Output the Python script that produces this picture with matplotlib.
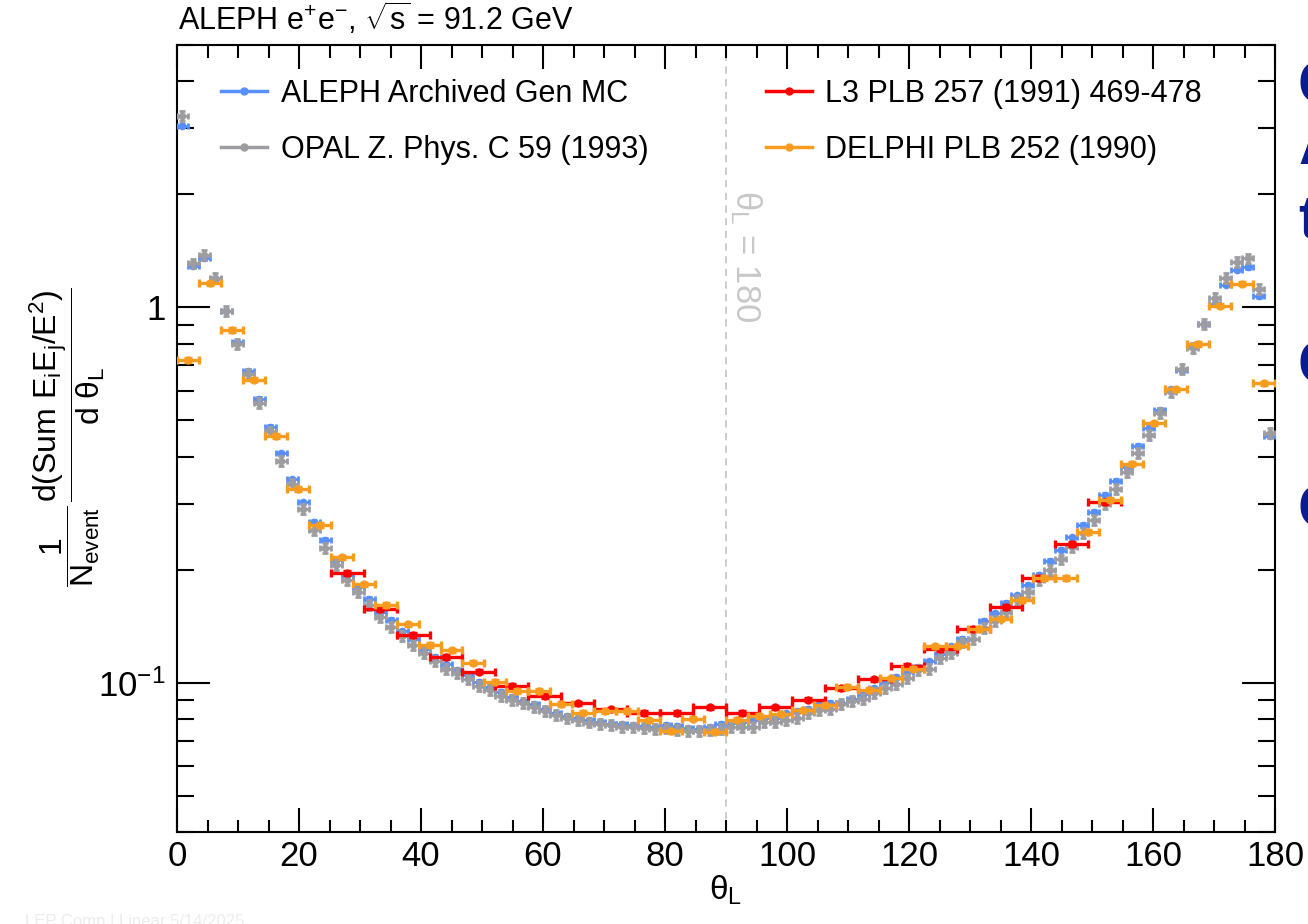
import numpy as np
import matplotlib
matplotlib.use("Agg")
import matplotlib.pyplot as plt
from matplotlib.lines import Line2D
from matplotlib.ticker import MultipleLocator, LogLocator, NullFormatter

plt.rcParams['font.family'] = ['Liberation Sans', 'DejaVu Sans']
plt.rcParams['mathtext.fontset'] = 'custom'
plt.rcParams['mathtext.rm'] = 'Liberation Sans'
plt.rcParams['mathtext.it'] = 'Liberation Sans:italic'
plt.rcParams['mathtext.default'] = 'regular'

# ALEPH archived MC, 100 bins of 1.8 deg
aleph_edges = np.linspace(0, 180, 101)
aleph_vals = [3.05, 1.29, 1.35, 1.19, 0.98, 0.806, 0.677, 0.570, 0.481, 0.408,
              0.348, 0.302, 0.268, 0.240, 0.212, 0.194, 0.180, 0.167, 0.154, 0.147,
              0.137, 0.131, 0.123, 0.117, 0.112, 0.108, 0.105, 0.1005, 0.0975, 0.0945,
              0.0917, 0.0892, 0.0877, 0.0853, 0.0829, 0.0815, 0.0803, 0.0794, 0.0787, 0.0776,
              0.0774, 0.0772, 0.0765, 0.0763, 0.0772, 0.0768, 0.0757, 0.0753, 0.0763, 0.0776,
              0.0782, 0.0787, 0.0794, 0.0804, 0.0806, 0.0829, 0.0838, 0.0853, 0.0877, 0.0882,
              0.0885, 0.0906, 0.0932, 0.0965, 0.1005, 0.1036, 0.1068, 0.110, 0.114, 0.119,
              0.125, 0.131, 0.139, 0.146, 0.153, 0.163, 0.171, 0.182, 0.194, 0.211,
              0.226, 0.244, 0.263, 0.285, 0.316, 0.345, 0.376, 0.428, 0.478, 0.533,
              0.605, 0.68, 0.79, 0.903, 1.02, 1.15, 1.26, 1.28, 1.07, 0.455]

# OPAL, same binning
opal_vals = [3.24, 1.31, 1.38, 1.20, 0.98, 0.798, 0.664, 0.555, 0.467, 0.389,
             0.338, 0.290, 0.255, 0.228, 0.206, 0.188, 0.174, 0.161, 0.150, 0.141,
             0.133, 0.126, 0.120, 0.114, 0.109, 0.106, 0.102, 0.098, 0.0956, 0.0922,
             0.090, 0.0882, 0.0861, 0.0839, 0.0821, 0.0803, 0.0794, 0.0783, 0.0775, 0.0772,
             0.0763, 0.076, 0.0757, 0.0753, 0.0755, 0.075, 0.0745, 0.0745, 0.075, 0.0752,
             0.0763, 0.0763, 0.0763, 0.0787, 0.0787, 0.0794, 0.0806, 0.0829, 0.0843, 0.0853,
             0.0877, 0.0892, 0.0906, 0.0939, 0.0965, 0.0994, 0.1026, 0.108, 0.109, 0.116,
             0.120, 0.128, 0.131, 0.140, 0.146, 0.154, 0.166, 0.174, 0.188, 0.200,
             0.213, 0.230, 0.250, 0.272, 0.299, 0.329, 0.365, 0.410, 0.457, 0.524,
             0.596, 0.684, 0.78, 0.903, 1.06, 1.196, 1.32, 1.35, 1.12, 0.462]

# L3, 24 bins of 5.4 deg from 25.2 to 154.8
l3_edges = np.linspace(25.2, 154.8, 25)
l3_vals = [0.196, 0.157, 0.134, 0.117, 0.107, 0.098, 0.092, 0.088, 0.085, 0.083, 0.083, 0.086,
           0.083, 0.086, 0.090, 0.0965, 0.102, 0.111, 0.123, 0.139, 0.159, 0.190, 0.234, 0.303]

# DELPHI, 50 bins of 3.6 deg
delphi_edges = np.linspace(0, 180, 51)
delphi_vals = [0.724, 1.16, 0.87, 0.641, 0.454, 0.328, 0.263, 0.216, 0.183, 0.161,
               0.143, 0.126, 0.122, 0.113, 0.1005, 0.095, 0.095, 0.0877, 0.0831, 0.0838,
               0.084, 0.0794, 0.0742, 0.0802, 0.074, 0.0797, 0.0815, 0.0827, 0.0843, 0.0871,
               0.0974, 0.0958, 0.1026, 0.109, 0.125, 0.125, 0.139, 0.148, 0.166, 0.190,
               0.190, 0.252, 0.307, 0.383, 0.491, 0.605, 0.798, 1.01, 1.155, 0.628]

c_aleph = '#5790fc'
c_opal = '#9c9ca1'
c_l3 = '#ff0000'
c_delphi = '#f89c20'

fig = plt.figure(figsize=(13.08, 9.24), dpi=100)
ax = fig.add_axes([177/1308, 1-832/924, 1098/1308, 787/924])


def draw(edges, vals, color, rel, ms, lw, cap, z):
    edges = np.asarray(edges)
    vals = np.asarray(vals)
    x = 0.5*(edges[1:]+edges[:-1])
    hw = 0.5*(edges[1:]-edges[:-1])
    ax.errorbar(x, vals, xerr=hw, yerr=vals*rel, fmt='o', color=color, ms=ms,
                elinewidth=lw, capsize=cap, capthick=lw, zorder=z)


ax.axvline(90, color='#c8c8c8', ls=(0, (4, 3)), lw=1.3, zorder=1)
draw(aleph_edges, aleph_vals, c_aleph, 0.01, 4.5, 2.0, 2.2, 3)
draw(aleph_edges, opal_vals, c_opal, 0.03, 4.5, 2.0, 2.2, 4)
draw(l3_edges, l3_vals, c_l3, 0.01, 5, 2.4, 2.8, 5)
draw(delphi_edges, delphi_vals, c_delphi, 0.01, 5, 2.4, 2.8, 6)

ax.set_yscale('log')
ax.set_xlim(0, 180)
ax.set_ylim(0.04, 5.0)
ax.set_xticks(np.arange(0, 181, 20))
ax.xaxis.set_minor_locator(MultipleLocator(5))
ax.set_yticks([0.1, 1])
ax.set_yticklabels(['$10^{-1}$', '1'])
ax.yaxis.set_minor_locator(LogLocator(base=10, subs=np.arange(2, 10)))
ax.yaxis.set_minor_formatter(NullFormatter())
ax.tick_params(which='both', direction='in', top=True, right=True, width=1.5, labelsize=25)
ax.tick_params(axis='x', which='major', length=17, pad=6)
ax.tick_params(axis='x', which='minor', length=9)
ax.tick_params(axis='y', which='major', length=24, pad=8)
ax.tick_params(axis='y', which='minor', length=12)
for s in ax.spines.values():
    s.set_linewidth(1.5)

ax.text(90.4, 2.06, r'$\theta_L$ = 180', rotation=-90, color='#c8c8c8', fontsize=25,
        ha='left', va='top')

ax.set_xlabel(r'$\theta_L$', fontsize=24, labelpad=0)
# y title, written as two stacked fractions
fig.text(67/1308, 1-395/924, r'$\dfrac{d(Sum\ E_{i}E_{j}/E^{2})}{d\ \theta_{L}}$',
         rotation=90, ha='center', va='center', fontsize=23)
fig.text(70/1308, 1-546/924, r'$\dfrac{1}{N_{event}}$',
         rotation=90, ha='center', va='center', fontsize=23)

fig.text(178/1308, 1-30/924, r'ALEPH e$^{+}$e$^{-}$, $\sqrt{s}$ = 91.2 GeV',
         fontsize=22, ha='left', va='baseline')

handles = [Line2D([], [], color=c, marker='o', ms=5, lw=2.5)
           for c in [c_aleph, c_opal, c_l3, c_delphi]]
labels = ['ALEPH Archived Gen MC', 'OPAL Z. Phys. C 59 (1993)',
          'L3 PLB 257 (1991) 469-478', 'DELPHI PLB 252 (1990)']
ax.legend(handles, labels, ncol=2, loc='upper left', bbox_to_anchor=(0.04, 0.957),
          frameon=False, fontsize=22, handlelength=1.5, handletextpad=0.45,
          columnspacing=3.85, labelspacing=0.85, borderpad=0, borderaxespad=0)

# slide text peeking in at the right edge
for ytxt, t in [(88, 'G'), (148, 'A'), (222, 't'), (368, 'C'), (512, 'C')]:
    fig.text(1298/1308, 1-ytxt/924, t, color='#0b1c8f', fontsize=44,
             ha='left', va='center', fontweight='bold')

fig.text(25/1308, -2/924, 'LEP Comp | Linear 5/14/2025', color='#ececec',
         fontsize=12, ha='left', va='baseline')

fig.savefig('out.png', dpi=100)
